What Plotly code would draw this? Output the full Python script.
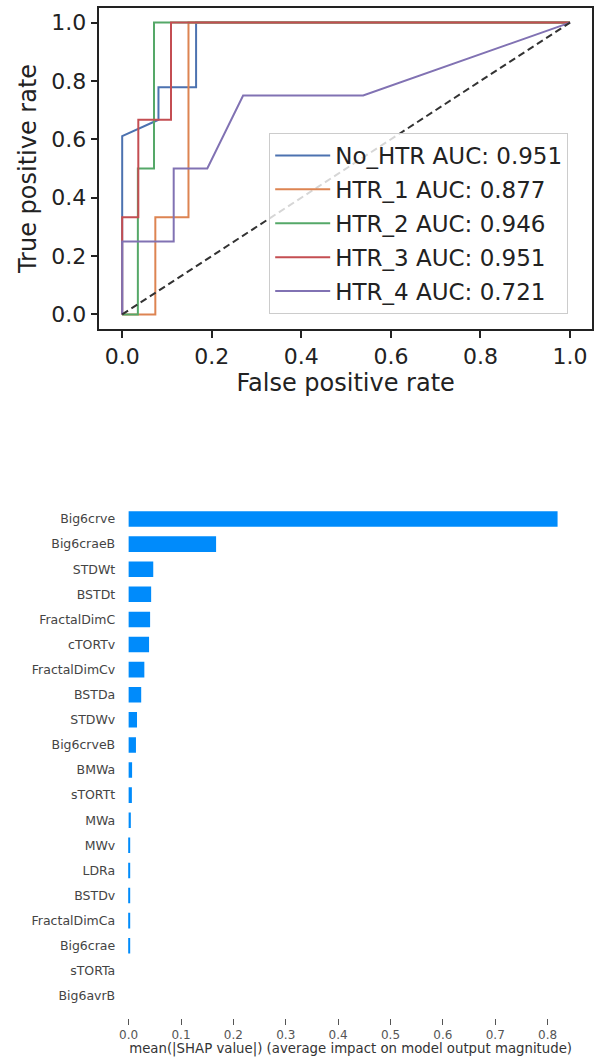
import plotly.graph_objects as go

W, H = 594, 1057

# ---- ROC data ----
roc_names = ["No_HTR AUC: 0.951", "HTR_1 AUC: 0.877", "HTR_2 AUC: 0.946",
             "HTR_3 AUC: 0.951", "HTR_4 AUC: 0.721"]
roc_colors = ["#4C72B0", "#DD8452", "#55A868", "#C44E52", "#8172B3"]
fpr_nohtr = [0.0, 0.0, 0.081, 0.081, 0.165, 0.165, 1.0]
tpr_nohtr = [0.0, 0.611, 0.667, 0.778, 0.778, 1.0, 1.0]
fpr_htr1 = [0.0, 0.074, 0.074, 0.148, 0.148, 1.0]
tpr_htr1 = [0.0, 0.0, 0.333, 0.333, 1.0, 1.0]
fpr_htr2 = [0.0, 0.035, 0.035, 0.071, 0.071, 1.0]
tpr_htr2 = [0.0, 0.0, 0.5, 0.5, 1.0, 1.0]
fpr_htr3 = [0.0, 0.0, 0.036, 0.036, 0.109, 0.109, 1.0]
tpr_htr3 = [0.0, 0.333, 0.333, 0.667, 0.667, 1.0, 1.0]
fpr_htr4 = [0.0, 0.0, 0.115, 0.115, 0.19, 0.27, 0.538, 1.0]
tpr_htr4 = [0.0, 0.25, 0.25, 0.5, 0.5, 0.75, 0.75, 1.0]
chance_x = [0.0, 1.0]
chance_y = [0.0, 1.0]
roc_ticks = [0.0, 0.2, 0.4, 0.6, 0.8, 1.0]

# ---- SHAP data ----
features = ["Big6crve", "Big6craeB", "STDWt", "BSTDt", "FractalDimC", "cTORTv",
            "FractalDimCv", "BSTDa", "STDWv", "Big6crveB", "BMWa", "sTORTt", "MWa",
            "MWv", "LDRa", "BSTDv", "FractalDimCa", "Big6crae", "sTORTa", "Big6avrB"]
shap_vals = [0.819, 0.167, 0.047, 0.043, 0.041, 0.039, 0.030, 0.024, 0.016, 0.014,
             0.0066, 0.0062, 0.0042, 0.0022, 0.0021, 0.0020, 0.0019, 0.0017, 0.0, 0.0]
shap_ticks = [0.0, 0.1, 0.2, 0.3, 0.4, 0.5, 0.6, 0.7, 0.8]

fig = go.Figure()

fpr_all = [fpr_nohtr, fpr_htr1, fpr_htr2, fpr_htr3, fpr_htr4]
tpr_all = [tpr_nohtr, tpr_htr1, tpr_htr2, tpr_htr3, tpr_htr4]
for i, (fx, ty) in enumerate(zip(fpr_all, tpr_all)):
    fig.add_trace(go.Scatter(x=fx, y=ty, mode="lines", name=roc_names[i],
                             line=dict(color=roc_colors[i], width=2),
                             legendgroup="g%d" % i, xaxis="x", yaxis="y"))
fig.add_trace(go.Scatter(x=chance_x, y=chance_y, mode="lines", showlegend=False,
                         line=dict(color="#333333", width=2, dash="7px,4px"),
                         xaxis="x", yaxis="y"))

fig.add_trace(go.Bar(x=shap_vals, y=features, orientation="h", width=0.62,
                     marker=dict(color="#008bfb", line=dict(width=0)),
                     showlegend=False, xaxis="x2", yaxis="y2"))

def fy(px):
    return 1 - px / H

dark = "#222222"
fig.update_layout(
    width=W, height=H,
    margin=dict(l=0, r=0, t=0, b=0),
    paper_bgcolor="white", plot_bgcolor="white",
    font=dict(family="DejaVu Sans", color=dark),
    xaxis=dict(domain=[97 / W, 593 / W], range=[-0.051, 1.049],
               tickvals=roc_ticks, tickformat=".1f",
               ticks="outside", ticklen=7, tickwidth=1.5, tickcolor=dark,
               showline=True, linecolor=dark, linewidth=1.5, mirror=True,
               showgrid=False, zeroline=False,
               tickfont=dict(size=22, color=dark),
               title=dict(text="False positive rate", font=dict(size=24, color=dark), standoff=6),
               anchor="y"),
    yaxis=dict(domain=[fy(329), fy(8)], range=[-0.05, 1.05],
               tickvals=roc_ticks, tickformat=".1f",
               ticks="outside", ticklen=7, tickwidth=1.5, tickcolor=dark,
               showline=True, linecolor=dark, linewidth=1.5, mirror=True,
               showgrid=False, zeroline=False,
               tickfont=dict(size=22, color=dark),
               title=dict(text="True positive rate", font=dict(size=24, color=dark), standoff=8),
               anchor="x"),
    xaxis2=dict(domain=[120 / W, 580 / W], range=[-0.0123, 0.8601],
                tickvals=shap_ticks, tickformat=".1f",
                ticks="outside", ticklen=6, tickwidth=1, tickcolor="#555555",
                showline=False, showgrid=False, zeroline=False,
                tickfont=dict(size=12, color="#555555"),
                title=dict(text="mean(|SHAP value|) (average impact on model output magnitude)",
                           font=dict(size=13.3, color="#333333"), standoff=3),
                anchor="y2"),
    yaxis2=dict(domain=[fy(1018), fy(505)], range=[19.88, -0.558],
                type="category", showline=False, showgrid=False, zeroline=False,
                ticks="", ticklabelstandoff=6,
                tickfont=dict(size=12.5, color="#444444"),
                anchor="x2"),
    legend=dict(x=268 / W, y=fy(133), xanchor="left", yanchor="top",
                bgcolor="rgba(255,255,255,0.8)", bordercolor="#cccccc", borderwidth=1,
                font=dict(size=23, color=dark), traceorder="grouped",
                tracegroupgap=1, itemwidth=55),
)

fig.write_html("out.html")
